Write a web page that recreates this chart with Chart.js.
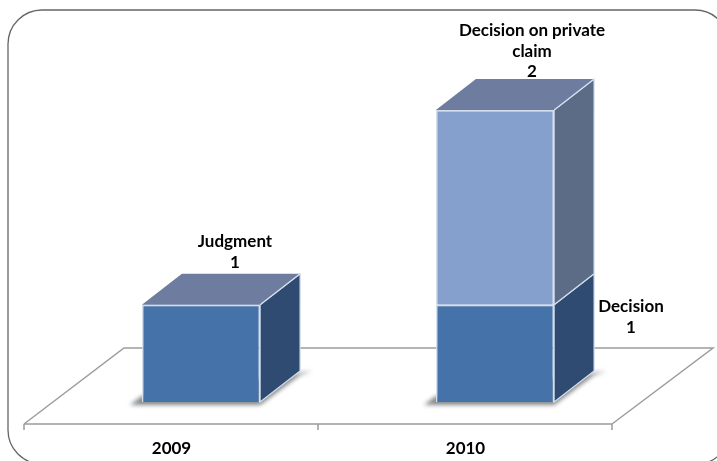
<!DOCTYPE html>
<html>
<head>
<meta charset="utf-8">
<script src="https://cdn.jsdelivr.net/npm/chart.js@4"></script>
<style>
html, body { margin: 0; padding: 0; background: #fff; overflow: hidden; }
#wrap { position: relative; width: 717px; height: 461px; }
</style>
</head>
<body>
<div id="wrap"><canvas id="chart" width="717" height="461"></canvas></div>
<script>
const categories = ['2009', '2010'];
const seriesNames = ['Judgment', 'Decision', 'Decision on private claim'];
const judgment = [1, null];
const decision = [null, 1];
const privateClaim = [null, 2];

// oblique depth of the bars and floor
const DEPTH_X = 40;
const DEPTH_Y = 31;
const LABEL_FONT = 'bold 17px Lato';

const front = ['#4472a9', '#4472a9', '#85a0cc'];
const side = ['#2f4b72', '#2f4b72', '#5c6c87'];
const topFace = ['#6d7c9f', '#6d7c9f', '#6d7c9f'];

function poly(ctx, pts, fill, stroke, lw) {
    ctx.beginPath();
    pts.forEach((p, i) => i ? ctx.lineTo(p[0], p[1]) : ctx.moveTo(p[0], p[1]));
    ctx.closePath();
    if (fill) { ctx.fillStyle = fill; ctx.fill(); }
    if (stroke) { ctx.strokeStyle = stroke; ctx.lineWidth = lw || 1; ctx.stroke(); }
}

const floorPlugin = {
    id: 'floor',
    beforeDatasetsDraw(chart) {
        const ctx = chart.ctx;
        const x = chart.scales.x;
        const y = chart.scales.y;
        const step = x.getPixelForValue(1) - x.getPixelForValue(0);
        const frontY = y.bottom;
        const backY = frontY - 76;
        const left = x.left - 30;
        const right = x.right - 30;
        ctx.save();
        ctx.beginPath();
        ctx.moveTo(left, frontY);
        ctx.lineTo(left + 100, backY);
        ctx.lineTo(right + 101, backY);
        ctx.lineTo(right, frontY);
        ctx.strokeStyle = '#9c9c9c';
        ctx.lineWidth = 1.5;
        ctx.stroke();
        ctx.beginPath();
        ctx.moveTo(left, frontY);
        ctx.lineTo(right, frontY);
        [0, 1, 2].forEach(i => {
            ctx.moveTo(left + step * i, frontY);
            ctx.lineTo(left + step * i, frontY + 6);
        });
        ctx.stroke();

        // soft shadow under the bars
        const base = y.getPixelForValue(0);
        chart.getDatasetMeta(0).data.concat(chart.getDatasetMeta(1).data).forEach(bar => {
            if (bar.skip || !bar.height) return;
            const l = bar.x - bar.width / 2;
            const r = bar.x + bar.width / 2;
            ctx.save();
            ctx.filter = 'blur(2px)';
            poly(ctx, [[l - 12, base + 3], [l, base - 6], [r + DEPTH_X + 12, base - DEPTH_Y],
                [r + DEPTH_X, base - DEPTH_Y + 4], [r, base + 3]], '#85878a');
            ctx.restore();
        });
        ctx.restore();
    },
    afterDatasetsDraw(chart) {
        const ctx = chart.ctx;
        ctx.save();
        // sides first, lower segment then upper, then tops
        chart.data.datasets.forEach((ds, d) => {
            chart.getDatasetMeta(d).data.forEach((bar, i) => {
                if (ds.data[i] == null) return;
                const r = bar.x + bar.width / 2;
                const l = bar.x - bar.width / 2;
                poly(ctx, [[r, bar.base], [r + DEPTH_X, bar.base - DEPTH_Y], [r + DEPTH_X, bar.y - DEPTH_Y], [r, bar.y]],
                    side[d], '#d5dfec', 1.2);
                const last = chart.data.datasets.every((o, k) => k <= d || o.data[i] == null);
                if (last) {
                    poly(ctx, [[l, bar.y], [l + DEPTH_X, bar.y - DEPTH_Y], [r + DEPTH_X, bar.y - DEPTH_Y], [r, bar.y]],
                        topFace[d]);
                    ctx.beginPath();
                    ctx.moveTo(r + DEPTH_X, bar.y - DEPTH_Y);
                    ctx.lineTo(r, bar.y);
                    ctx.strokeStyle = '#d5dfec';
                    ctx.lineWidth = 1.2;
                    ctx.stroke();
                }
            });
        });
        // value labels
        ctx.fillStyle = '#000';
        ctx.font = LABEL_FONT;
        ctx.textAlign = 'center';
        ctx.textBaseline = 'middle';
        const put = (lines, cx, cy) => lines.forEach((t, k) => ctx.fillText(t, cx, cy + k * 20.5));
        const b0 = chart.getDatasetMeta(0).data[0];
        put([seriesNames[0], String(judgment[0])], b0.x + 34, b0.y - 63);
        const b1 = chart.getDatasetMeta(1).data[1];
        put([seriesNames[1], String(decision[1])], b1.x + 136, b1.y + 2);
        const b2 = chart.getDatasetMeta(2).data[1];
        put(['Decision on private', 'claim', String(privateClaim[1])], b2.x + 37, b2.y - 79);
        ctx.restore();
    }
};

// rounded frame round the whole picture
const framePlugin = {
    id: 'frame',
    beforeDraw(chart) {
        const ctx = chart.ctx;
        ctx.save();
        ctx.beginPath();
        ctx.roundRect(8, 10, 721, 454, [34, 34, 32, 34]);
        ctx.strokeStyle = '#666';
        ctx.lineWidth = 1.3;
        ctx.stroke();
        ctx.restore();
    }
};

const chart = new Chart(document.getElementById('chart').getContext('2d'), {
    type: 'bar',
    data: {
        labels: categories,
        datasets: [judgment, decision, privateClaim].map((values, d) => ({
            label: seriesNames[d],
            data: values,
            backgroundColor: front[d],
            borderColor: '#d5dfec',
            borderWidth: 1.5,
            barPercentage: 0.402,
            categoryPercentage: 1
        }))
    },
    options: {
        responsive: false,
        animation: false,
        layout: { padding: { left: 54, right: 75, top: 110, bottom: 0 } },
        plugins: { legend: { display: false }, tooltip: { enabled: false } },
        scales: {
            x: {
                stacked: true,
                border: { display: false },
                grid: { display: false },
                afterFit(scale) { scale.height = 37; },
                ticks: {
                    color: '#000',
                    font: { family: 'Lato', size: 17, weight: 'bold' },
                    labelOffset: -29.5,
                    padding: 6,
                    maxRotation: 0
                }
            },
            y: {
                stacked: true,
                display: false,
                min: -0.2256,
                max: 3
            }
        }
    },
    plugins: [framePlugin, floorPlugin]
});
</script>
</body>
</html>
